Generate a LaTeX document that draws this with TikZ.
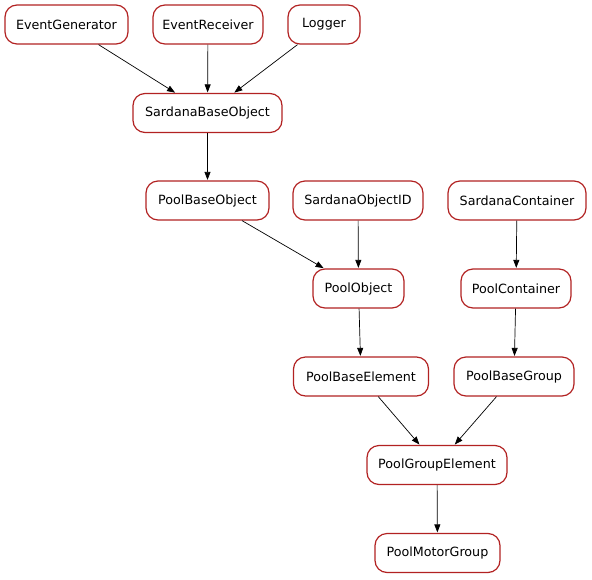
\documentclass[tikz,border=0pt]{standalone}
\usepackage{fontspec}
\setmainfont{DejaVu Sans}
\usetikzlibrary{arrows.meta}
\definecolor{nodeborder}{RGB}{178,34,34}
\tikzset{
  cls/.style={draw=nodeborder, line width=1.2pt, rounded corners=12pt, fill=white,
    minimum height=39pt, inner xsep=0pt, inner ysep=0pt,
    font=\fontsize{12.7}{15}\selectfont},
  inh/.style={draw=black, line width=0.7pt, -{Triangle[length=8pt,width=6pt]}, shorten >=0.5pt}
}
\begin{document}
\begin{tikzpicture}[x=1pt,y=-1pt]
\useasboundingbox (0,0) rectangle (592,579);
\node[cls, minimum width=123pt] (eg) at (66.5,24.5) {EventGenerator};
\node[cls, minimum width=110pt] (er) at (208,24.5) {EventReceiver};
\node[cls, minimum width=72pt] (lg) at (324,24.5) {Logger};
\node[cls, minimum width=149pt] (sbo) at (207.5,113) {SardanaBaseObject};
\node[cls, minimum width=123pt] (pbo) at (207.5,200.5) {PoolBaseObject};
\node[cls, minimum width=130pt] (soid) at (358,200.5) {SardanaObjectID};
\node[cls, minimum width=138pt] (sc) at (517,200.5) {SardanaContainer};
\node[cls, minimum width=91pt] (po) at (358.5,288.5) {PoolObject};
\node[cls, minimum width=110pt] (pc) at (516,288.5) {PoolContainer};
\node[cls, minimum width=135pt] (pbe) at (361,376.5) {PoolBaseElement};
\node[cls, minimum width=120pt] (pbg) at (514,376.5) {PoolBaseGroup};
\node[cls, minimum width=140pt] (pge) at (437,465) {PoolGroupElement};
\node[cls, minimum width=125pt] (pmg) at (437.5,553) {PoolMotorGroup};
\draw[inh] (eg) -- (sbo);
\draw[inh] (er) -- (sbo);
\draw[inh] (lg) -- (sbo);
\draw[inh] (sbo) -- (pbo);
\draw[inh] (pbo) -- (po);
\draw[inh] (soid) -- (po);
\draw[inh] (sc) -- (pc);
\draw[inh] (po) -- (pbe);
\draw[inh] (pc) -- (pbg);
\draw[inh] (pbe) -- (pge);
\draw[inh] (pbg) -- (pge);
\draw[inh] (pge) -- (pmg);
\end{tikzpicture}
\end{document}
